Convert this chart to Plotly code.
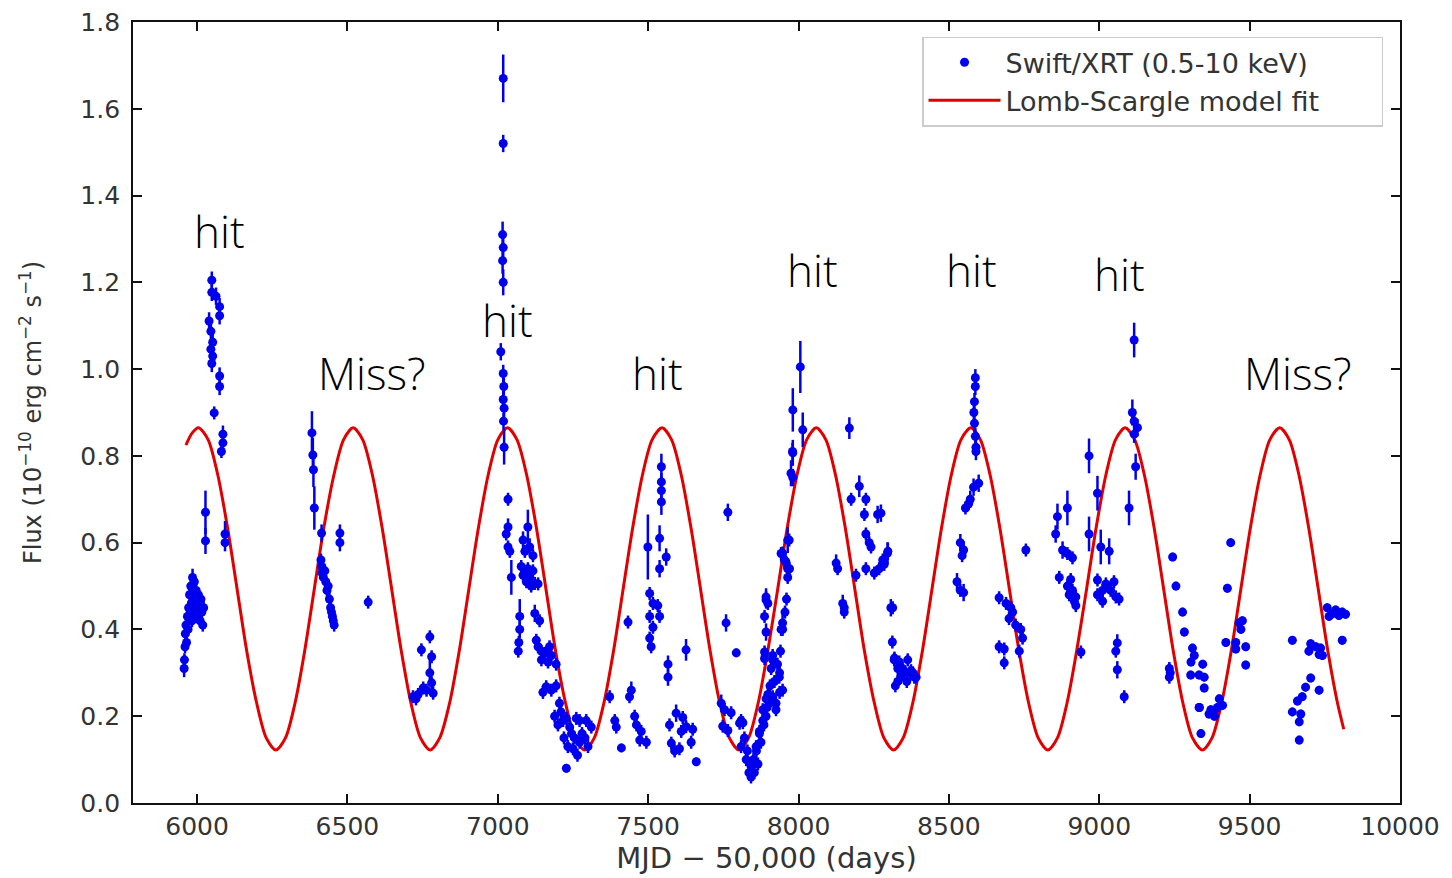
import plotly.graph_objects as go

# ---------------- data ----------------
# Swift/XRT observations: (MJD-50000, flux, error)
season1 = [
    (5957, 0.31, 0.02), (5958, 0.33, 0.015), (5960, 0.36, 0.015), (5961, 0.39, 0.015), (5963, 0.41, 0.015),
    (5965, 0.37, 0.015), (5968, 0.43, 0.015), (5970, 0.40, 0.015), (5972, 0.45, 0.015), (5975, 0.48, 0.015),
    (5977, 0.44, 0.015), (5979, 0.50, 0.015), (5981, 0.46, 0.015), (5983, 0.42, 0.015), (5985, 0.52, 0.02),
    (5987, 0.48, 0.015), (5989, 0.45, 0.015), (5991, 0.51, 0.015), (5993, 0.47, 0.015), (5995, 0.43, 0.015),
    (5997, 0.49, 0.015), (5999, 0.46, 0.015), (6002, 0.44, 0.015), (6004, 0.48, 0.015), (6007, 0.45, 0.015),
    (6010, 0.42, 0.015), (6013, 0.47, 0.015), (6016, 0.44, 0.015), (6019, 0.41, 0.015), (6022, 0.45, 0.015),
    (6028, 0.67, 0.05), (6028, 0.604, 0.03),
    (6049, 1.205, 0.02), (6049, 1.177, 0.02), (6063, 1.168, 0.02), (6075, 1.144, 0.02), (6075, 1.123, 0.02),
    (6040, 1.111, 0.02), (6046, 1.087, 0.02), (6052, 1.062, 0.02), (6046, 1.046, 0.02), (6052, 1.03, 0.02),
    (6049, 1.013, 0.02), (6075, 0.984, 0.02), (6075, 0.96, 0.02), (6057, 0.899, 0.015), (6086, 0.85, 0.02),
    (6086, 0.83, 0.02), (6081, 0.81, 0.015), (6093, 0.62, 0.03), (6093, 0.60, 0.02),
]
season2 = [
    (6382, 0.853, 0.05), (6385, 0.802, 0.04), (6387, 0.768, 0.04), (6390, 0.68, 0.05),
    (6414, 0.622, 0.02), (6475, 0.622, 0.02), (6475, 0.60, 0.02),
    (6412, 0.56, 0.015), (6414, 0.545, 0.015), (6416, 0.53, 0.015), (6420, 0.52, 0.015), (6425, 0.535, 0.015),
    (6428, 0.51, 0.015), (6432, 0.49, 0.015), (6436, 0.50, 0.015), (6440, 0.47, 0.015), (6444, 0.45, 0.015),
    (6447, 0.44, 0.015), (6450, 0.43, 0.015), (6453, 0.42, 0.015), (6456, 0.41, 0.015),
    (6569, 0.463, 0.015),
    (6774, 0.383, 0.015), (6746, 0.353, 0.015), (6780, 0.337, 0.015), (6718, 0.245, 0.015), (6735, 0.25, 0.015),
    (6752, 0.265, 0.015), (6763, 0.26, 0.015), (6780, 0.277, 0.015), (6774, 0.30, 0.03), (6785, 0.253, 0.015),
    (6728, 0.24, 0.015),
]
season3 = [
    (7018, 1.67, 0.055), (7018, 1.52, 0.02), (7016, 1.31, 0.03), (7018, 1.28, 0.03), (7016, 1.25, 0.03),
    (7018, 1.20, 0.03), (7010, 1.04, 0.02), (7018, 0.99, 0.02), (7020, 0.96, 0.02), (7018, 0.93, 0.02),
    (7021, 0.91, 0.02), (7019, 0.88, 0.02), (7021, 0.82, 0.04),
    (7034, 0.70, 0.015), (7034, 0.636, 0.02), (7028, 0.62, 0.015), (7034, 0.59, 0.015), (7040, 0.58, 0.015),
    (7045, 0.52, 0.04), (7100, 0.636, 0.04),
    (7084, 0.606, 0.02), (7106, 0.59, 0.02), (7090, 0.58, 0.015), (7078, 0.545, 0.015), (7100, 0.54, 0.015),
    (7117, 0.535, 0.015), (7084, 0.525, 0.015), (7106, 0.52, 0.015), (7095, 0.51, 0.015), (7123, 0.506, 0.015),
    (7111, 0.50, 0.015), (7134, 0.505, 0.015), (7095, 0.53, 0.015), (7117, 0.57, 0.015),
    (7073, 0.43, 0.04), (7073, 0.40, 0.02), (7070, 0.37, 0.015), (7068, 0.35, 0.015),
    (7123, 0.437, 0.02), (7139, 0.42, 0.015), (7128, 0.375, 0.015), (7134, 0.36, 0.015), (7145, 0.35, 0.015),
    (7172, 0.36, 0.015), (7156, 0.345, 0.015), (7178, 0.34, 0.015), (7145, 0.33, 0.015), (7167, 0.325, 0.015),
    (7194, 0.32, 0.015), (7161, 0.268, 0.015), (7150, 0.255, 0.015), (7178, 0.26, 0.015), (7194, 0.27, 0.015),
    (7205, 0.23, 0.015),
    (7189, 0.20, 0.015), (7200, 0.18, 0.015), (7228, 0.195, 0.015), (7217, 0.19, 0.015), (7239, 0.175, 0.015),
    (7261, 0.195, 0.015), (7272, 0.19, 0.015), (7294, 0.19, 0.015), (7233, 0.13, 0.015), (7250, 0.125, 0.015),
    (7272, 0.14, 0.015), (7300, 0.13, 0.015), (7311, 0.175, 0.015), (7228, 0.08, 0.01),
    (7210, 0.21, 0.015), (7245, 0.16, 0.015), (7280, 0.16, 0.015), (7255, 0.15, 0.015), (7220, 0.15, 0.015),
    (7265, 0.11, 0.015), (7290, 0.15, 0.015),
]
season4 = [
    (7544, 0.775, 0.03), (7544, 0.74, 0.02), (7544, 0.72, 0.03), (7544, 0.694, 0.03),
    (7499, 0.59, 0.075), (7538, 0.61, 0.03), (7560, 0.567, 0.02), (7538, 0.54, 0.02),
    (7765, 0.67, 0.02),
    (7505, 0.483, 0.015), (7516, 0.46, 0.015), (7532, 0.455, 0.015), (7505, 0.43, 0.015), (7516, 0.405, 0.015),
    (7505, 0.38, 0.015), (7510, 0.36, 0.015), (7538, 0.43, 0.015),
    (7433, 0.417, 0.015), (7626, 0.353, 0.025), (7566, 0.32, 0.02), (7566, 0.29, 0.02), (7759, 0.415, 0.02),
    (7793, 0.346, 0.01),
    (7372, 0.245, 0.015), (7444, 0.26, 0.02), (7438, 0.245, 0.015), (7389, 0.19, 0.015), (7394, 0.175, 0.015),
    (7411, 0.127, 0.01), (7455, 0.20, 0.015), (7461, 0.18, 0.015), (7472, 0.145, 0.015), (7494, 0.14, 0.015),
    (7477, 0.165, 0.015),
    (7593, 0.207, 0.02), (7571, 0.18, 0.015), (7577, 0.138, 0.015), (7610, 0.165, 0.015), (7626, 0.176, 0.015),
    (7648, 0.17, 0.015), (7604, 0.125, 0.015), (7643, 0.14, 0.015), (7660, 0.095, 0.01), (7588, 0.12, 0.015),
    (7615, 0.197, 0.015),
    (7743, 0.23, 0.02), (7754, 0.215, 0.015), (7748, 0.177, 0.015), (7776, 0.208, 0.015), (7804, 0.184, 0.015),
    (7765, 0.167, 0.015), (7809, 0.13, 0.015),
    (7826, 0.10, 0.015), (7842, 0.085, 0.015), (7848, 0.09, 0.015), (7859, 0.13, 0.015), (7870, 0.165, 0.015),
    (7881, 0.215, 0.015), (7892, 0.24, 0.015), (7898, 0.25, 0.015), (7909, 0.31, 0.015), (7914, 0.33, 0.015),
    (7936, 0.29, 0.015), (7925, 0.23, 0.015), (7887, 0.333, 0.015),
    (7892, 0.468, 0.02), (7898, 0.46, 0.015), (7887, 0.43, 0.015), (7947, 0.415, 0.02), (7942, 0.40, 0.015),
    (7953, 0.56, 0.02), (7964, 0.54, 0.015), (7942, 0.575, 0.015), (7969, 0.606, 0.015),
    (7809, 0.19, 0.015), (7815, 0.185, 0.015), (7842, 0.06, 0.015), (7853, 0.07, 0.015), (7865, 0.09, 0.015),
    (7870, 0.16, 0.015), (7881, 0.19, 0.015), (7892, 0.20, 0.015), (7903, 0.23, 0.015), (7914, 0.245, 0.015),
    (7925, 0.215, 0.015), (7937, 0.255, 0.015), (7947, 0.26, 0.015),
    (7892, 0.475, 0.02), (7892, 0.394, 0.02), (7947, 0.40, 0.015), (7887, 0.348, 0.015), (7914, 0.34, 0.015),
    (7937, 0.30, 0.015),
    (7835, 0.07, 0.015), (7850, 0.10, 0.015), (7860, 0.12, 0.015), (7875, 0.14, 0.015), (7885, 0.18, 0.015),
    (7895, 0.22, 0.015), (7905, 0.27, 0.015), (7920, 0.28, 0.015), (7930, 0.32, 0.015), (7940, 0.35, 0.015),
    (7955, 0.44, 0.015), (7960, 0.47, 0.015), (7820, 0.15, 0.015), (7830, 0.12, 0.015),
    (8006, 1.005, 0.06), (7981, 0.906, 0.05), (8014, 0.86, 0.04), (7981, 0.807, 0.03), (7975, 0.76, 0.03),
    (7981, 0.75, 0.02), (7980, 0.81, 0.02), (7964, 0.606, 0.03), (7947, 0.576, 0.015), (7958, 0.556, 0.015),
    (7970, 0.54, 0.015), (7964, 0.52, 0.015),
]
season5 = [
    (8169, 0.864, 0.025), (8202, 0.73, 0.025), (8175, 0.70, 0.015), (8224, 0.70, 0.015), (8263, 0.665, 0.02),
    (8219, 0.665, 0.015), (8224, 0.62, 0.015), (8235, 0.60, 0.015), (8241, 0.59, 0.015), (8296, 0.576, 0.025),
    (8224, 0.54, 0.015), (8268, 0.54, 0.015), (8252, 0.53, 0.015), (8191, 0.525, 0.015),
    (8125, 0.553, 0.02), (8130, 0.54, 0.015), (8147, 0.46, 0.02), (8152, 0.45, 0.015), (8152, 0.44, 0.015),
    (8307, 0.45, 0.02), (8312, 0.371, 0.015),
    (8318, 0.33, 0.015), (8330, 0.31, 0.015), (8340, 0.29, 0.015), (8350, 0.30, 0.015), (8360, 0.28, 0.015),
    (8322, 0.27, 0.015), (8370, 0.30, 0.015), (8385, 0.29, 0.015),
    (8274, 0.668, 0.02), (8297, 0.58, 0.02), (8280, 0.56, 0.015), (8285, 0.55, 0.015), (8313, 0.45, 0.015),
    (8319, 0.334, 0.015), (8335, 0.325, 0.015), (8346, 0.31, 0.015), (8363, 0.33, 0.015), (8374, 0.305, 0.015),
    (8380, 0.30, 0.015), (8391, 0.29, 0.015), (8330, 0.28, 0.015),
]
season6 = [
    (8588, 0.98, 0.02), (8588, 0.96, 0.02), (8585, 0.925, 0.02), (8583, 0.90, 0.03), (8585, 0.875, 0.02),
    (8588, 0.845, 0.02), (8590, 0.82, 0.02), (8590, 0.81, 0.02),
    (8599, 0.737, 0.02), (8582, 0.728, 0.02), (8571, 0.70, 0.02), (8566, 0.69, 0.015), (8555, 0.68, 0.015),
    (8538, 0.60, 0.02), (8549, 0.583, 0.02), (8544, 0.57, 0.015),
    (8527, 0.51, 0.02), (8538, 0.49, 0.015), (8549, 0.485, 0.02),
    (8756, 0.583, 0.015),
    (8667, 0.473, 0.015), (8690, 0.46, 0.015), (8706, 0.45, 0.015), (8712, 0.44, 0.015), (8700, 0.425, 0.015),
    (8667, 0.36, 0.015), (8684, 0.355, 0.015), (8722, 0.41, 0.015), (8739, 0.40, 0.015), (8745, 0.38, 0.015),
    (8684, 0.323, 0.015), (8734, 0.35, 0.015),
]
season7 = [
    (9116, 1.067, 0.04), (9110, 0.90, 0.03), (9116, 0.88, 0.02), (9127, 0.865, 0.02), (9116, 0.85, 0.02),
    (9121, 0.775, 0.03), (9099, 0.68, 0.04), (8966, 0.80, 0.04), (8994, 0.714, 0.04), (8861, 0.66, 0.03),
    (8894, 0.68, 0.04), (8966, 0.62, 0.04), (8855, 0.62, 0.02),
    (8878, 0.583, 0.02), (8894, 0.575, 0.015), (8911, 0.565, 0.015), (8867, 0.52, 0.015), (8905, 0.515, 0.015),
    (8894, 0.50, 0.015), (8911, 0.49, 0.015), (8900, 0.48, 0.015), (8922, 0.475, 0.015), (8917, 0.465, 0.015),
    (8922, 0.455, 0.015), (8939, 0.348, 0.015),
    (9005, 0.59, 0.04), (9033, 0.58, 0.03), (8994, 0.514, 0.015), (9022, 0.505, 0.015), (9011, 0.49, 0.015),
    (9038, 0.49, 0.015), (8994, 0.48, 0.015), (9055, 0.475, 0.015), (9011, 0.465, 0.015), (9066, 0.47, 0.015),
    (9049, 0.51, 0.015),
    (9060, 0.369, 0.02), (9055, 0.35, 0.015), (9060, 0.307, 0.02), (9083, 0.245, 0.015),
]
season8 = [
    (9244, 0.567, 0.01), (9255, 0.50, 0.01), (9277, 0.44, 0.01), (9283, 0.394, 0.01), (9310, 0.357, 0.01),
    (9316, 0.34, 0.01), (9305, 0.325, 0.01), (9344, 0.32, 0.01), (9349, 0.265, 0.01), (9333, 0.22, 0.01),
    (9372, 0.21, 0.01), (9383, 0.20, 0.01), (9338, 0.16, 0.01),
    (9233, 0.31, 0.015), (9233, 0.29, 0.015), (9236, 0.30, 0.015),
    (9304, 0.295, 0.01), (9332, 0.295, 0.01), (9349, 0.29, 0.01), (9332, 0.22, 0.01), (9371, 0.215, 0.01),
    (9365, 0.205, 0.01), (9393, 0.22, 0.01), (9410, 0.225, 0.01), (9399, 0.24, 0.01), (9382, 0.212, 0.01),
    (9437, 0.60, 0.01), (9426, 0.495, 0.01), (9476, 0.42, 0.01), (9465, 0.415, 0.01), (9471, 0.40, 0.01),
    (9421, 0.37, 0.01), (9454, 0.37, 0.01), (9487, 0.36, 0.01), (9454, 0.355, 0.01), (9487, 0.318, 0.01),
]
season9 = [
    (9642, 0.375, 0.01), (9703, 0.367, 0.01), (9720, 0.36, 0.01), (9736, 0.357, 0.01), (9697, 0.35, 0.01),
    (9731, 0.342, 0.01), (9742, 0.34, 0.01),
    (9703, 0.288, 0.01), (9686, 0.267, 0.01), (9731, 0.26, 0.01), (9675, 0.245, 0.01), (9659, 0.235, 0.01),
    (9642, 0.21, 0.01), (9670, 0.205, 0.01), (9665, 0.187, 0.01), (9665, 0.145, 0.01),
    (9758, 0.45, 0.01), (9786, 0.445, 0.01), (9808, 0.44, 0.01), (9775, 0.436, 0.01), (9819, 0.435, 0.01),
    (9764, 0.43, 0.01), (9797, 0.432, 0.01), (9808, 0.375, 0.01),
]

# Lomb-Scargle model fit, sampled off the drawn curve
model_mjd = [5963, 5984,
             6005, 6037, 6069, 6101, 6133, 6165, 6198, 6230, 6262, 6294, 6326, 6358, 6390, 6422, 6455, 6487,
             6519, 6551, 6583, 6615, 6647, 6679, 6711, 6743, 6775, 6807, 6840, 6872, 6904, 6936, 6968, 7000,
             7032, 7064, 7096, 7128, 7160, 7192, 7225, 7257, 7289, 7321, 7353, 7385, 7417, 7449, 7481, 7513,
             7546, 7578, 7610, 7642, 7674, 7706, 7738, 7770, 7802, 7834, 7866, 7898, 7931, 7963, 7995, 8027,
             8059, 8091, 8123, 8155, 8187, 8219, 8252, 8284, 8316, 8348, 8380, 8412, 8444, 8476, 8508, 8540,
             8573, 8605, 8637, 8669, 8701, 8733, 8765, 8797, 8829, 8861, 8893, 8925, 8958, 8990, 9022, 9054,
             9086, 9118, 9150, 9182, 9214, 9246, 9278, 9310, 9343, 9375, 9407, 9439, 9471, 9503, 9535, 9567,
             9600, 9632, 9664, 9696, 9728, 9760, 9792, 9813]
model_flux = [0.825, 0.853,
              0.865, 0.837, 0.756, 0.636, 0.494, 0.351, 0.231, 0.150, 0.122, 0.150, 0.231, 0.351, 0.494, 0.636, 0.756, 0.837,
              0.865, 0.837, 0.756, 0.636, 0.494, 0.351, 0.231, 0.150, 0.122, 0.150, 0.231, 0.351, 0.494, 0.636, 0.756, 0.837,
              0.865, 0.837, 0.756, 0.636, 0.494, 0.351, 0.231, 0.150, 0.122, 0.150, 0.231, 0.351, 0.494, 0.636, 0.756, 0.837,
              0.865, 0.837, 0.756, 0.636, 0.494, 0.351, 0.231, 0.150, 0.122, 0.150, 0.231, 0.351, 0.494, 0.636, 0.756, 0.837,
              0.865, 0.837, 0.756, 0.636, 0.494, 0.351, 0.231, 0.150, 0.122, 0.150, 0.231, 0.351, 0.494, 0.636, 0.756, 0.837,
              0.865, 0.837, 0.756, 0.636, 0.494, 0.351, 0.231, 0.150, 0.122, 0.150, 0.231, 0.351, 0.494, 0.636, 0.756, 0.837,
              0.865, 0.837, 0.756, 0.636, 0.494, 0.351, 0.231, 0.150, 0.122, 0.150, 0.231, 0.351, 0.494, 0.636, 0.756, 0.837,
              0.865, 0.837, 0.756, 0.636, 0.494, 0.351, 0.231, 0.170]

# overlay labels
label_text = ["hit", "Miss?", "hit", "hit", "hit", "hit", "hit", "Miss?"]
label_mjd = [6076, 6581, 7033, 7531, 8046, 8575, 9066, 9658]
label_flux = [1.318, 0.991, 1.113, 0.991, 1.228, 1.228, 1.219, 0.991]

x_ticks = [6000, 6500, 7000, 7500, 8000, 8500, 9000, 9500, 10000]
y_ticks = [0.0, 0.2, 0.4, 0.6, 0.8, 1.0, 1.2, 1.4, 1.6, 1.8]

# ---------------- figure ----------------
obs = season1 + season2 + season3 + season4 + season5 + season6 + season7 + season8 + season9
mjd = [p[0] for p in obs]
flux = [p[1] for p in obs]
flux_err = [p[2] for p in obs]

fig = go.Figure()
fig.add_trace(go.Scatter(
    x=model_mjd, y=model_flux, mode="lines", name="Lomb-Scargle model fit",
    line=dict(color="#e00000", width=3, shape="spline", smoothing=0.8),
    legendrank=2,
))
fig.add_trace(go.Scatter(
    x=mjd, y=flux, mode="markers", name="Swift/XRT (0.5-10 keV)" + "&nbsp;" * 8,
    marker=dict(color="#0000ee", size=9, line=dict(width=0)),
    error_y=dict(type="data", array=flux_err, visible=True, color="#0000ee", thickness=2.5, width=0),
    legendrank=1,
))

for t, xv, yv in zip(label_text, label_mjd, label_flux):
    fig.add_annotation(x=xv, y=yv, xref="x", yref="y", text=t, showarrow=False,
                       font=dict(family="Open Sans, Lato, sans-serif", size=44, color="#000000", weight=300),
                       xanchor="center", yanchor="middle")

tick_font = dict(family="DejaVu Sans", size=25, color="#333333")
fig.update_xaxes(
    range=[5787, 10000], tickvals=x_ticks, ticktext=[str(v) for v in x_ticks],
    ticks="inside", ticklen=9, tickwidth=2, tickcolor="#111111",
    showline=True, linewidth=1.8, linecolor="#111111", mirror="ticks",
    showgrid=False, zeroline=False, tickfont=tick_font, automargin=False,
    title=dict(text="MJD − 50,000 (days)", font=dict(family="DejaVu Sans", size=29, color="#333333"), standoff=4),
)
fig.update_yaxes(
    range=[0, 1.8], tickvals=y_ticks, ticktext=[f"{v:.1f}" for v in y_ticks],
    ticks="inside", ticklen=9, tickwidth=2, tickcolor="#111111",
    showline=True, linewidth=1.8, linecolor="#111111", mirror="ticks",
    showgrid=False, zeroline=False, tickfont=tick_font, ticklabelstandoff=6, automargin=False,
    title=dict(text="Flux (10<sup>−10</sup> erg cm<sup>−2</sup> s<sup>−1</sup>)",
               font=dict(family="DejaVu Sans", size=24, color="#333333"), standoff=32),
)
fig.update_layout(
    width=1452, height=878,
    margin=dict(l=133, r=52, t=22, b=75, autoexpand=False),
    paper_bgcolor="white", plot_bgcolor="white",
    showlegend=True,
    legend=dict(x=0.9866, y=0.9812, xanchor="right", yanchor="top",
                bgcolor="white", bordercolor="#cccccc", borderwidth=1.5,
                font=dict(family="DejaVu Sans", size=27, color="#333333"),
                itemwidth=72, traceorder="normal"),
)

fig.write_html("out.html")
